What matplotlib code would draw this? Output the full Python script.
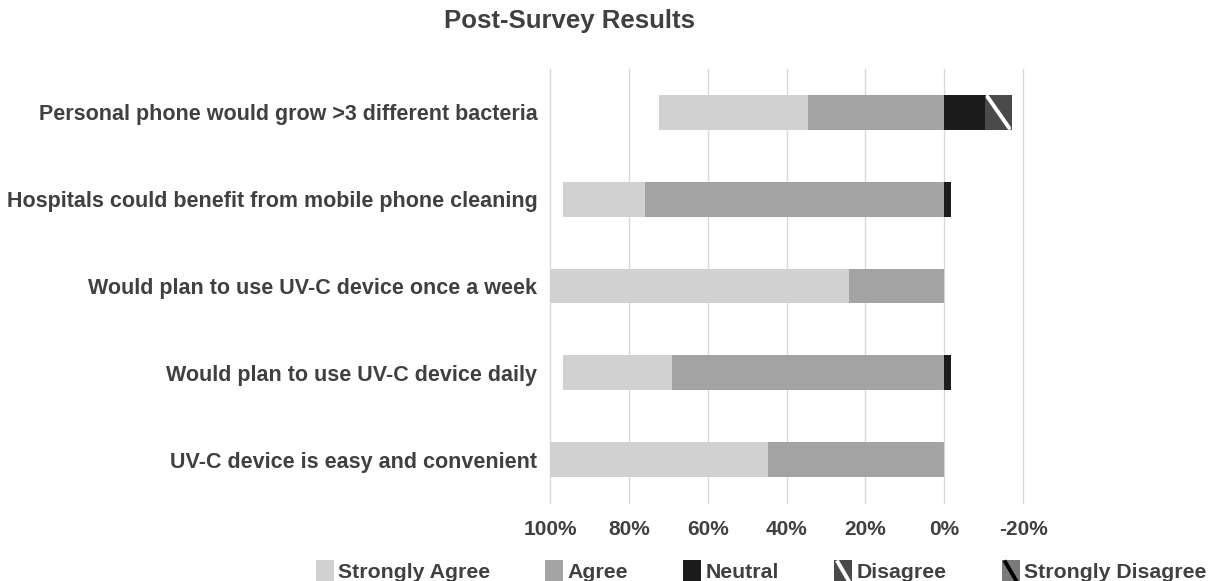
import matplotlib
matplotlib.use("Agg")
import matplotlib.pyplot as plt
from matplotlib.patches import Rectangle
from matplotlib.lines import Line2D
from matplotlib.legend_handler import HandlerBase

plt.rcParams['font.family'] = ['Liberation Sans', 'DejaVu Sans']
plt.rcParams['font.weight'] = 'bold'

# Survey statements (top to bottom) and response shares in percent
statements = [
    "Personal phone would grow >3 different bacteria",
    "Hospitals could benefit from mobile phone cleaning",
    "Would plan to use UV-C device once a week",
    "Would plan to use UV-C device daily",
    "UV-C device is easy and convenient",
]
strongly_agree = [37.9, 20.7, 75.9, 27.6, 55.2]
agree = [34.5, 75.9, 24.1, 69.0, 44.8]
neutral = [10.3, 1.7, 0.0, 1.7, 0.0]
disagree = [6.9, 0.0, 0.0, 0.0, 0.0]
strongly_disagree = [0.0, 0.0, 0.0, 0.0, 0.0]

x_ticks = [100, 80, 60, 40, 20, 0, -20]
x_tick_labels = ["100%", "80%", "60%", "40%", "20%", "0%", "-20%"]

TEXT = "#404040"
C_SA = "#d1d1d1"
C_A = "#a3a3a3"
C_N = "#1c1c1c"
C_D = "#4a4a4a"
C_SD = "#7a7a7a"

fig = plt.figure(figsize=(12.2, 5.81), dpi=100)
ax = fig.add_axes([550 / 1220, 1 - 503 / 581, (1023 - 550) / 1220, (503 - 69) / 581])

y = list(range(len(statements)))
h = 0.4

# Agreement stacks to the left of zero (positive side of an inverted axis)
ax.barh(y, agree, height=h, left=0, color=C_A, zorder=3)
ax.barh(y, strongly_agree, height=h, left=agree, color=C_SA, zorder=3)
# Neutral and disagreement stack to the right of zero
ax.barh(y, [-v for v in neutral], height=h, left=0, color=C_N, zorder=3)
d_left = [-v for v in neutral]
d_bars = ax.barh(y, [-v for v in disagree], height=h, left=d_left, color=C_D, zorder=3)
sd_left = [a - b for a, b in zip(d_left, disagree)]
sd_bars = ax.barh(y, [-v for v in strongly_disagree], height=h, left=sd_left,
                  color=C_SD, zorder=3)


# Diagonal stroke across each disagreement segment
def add_stroke(bars, color):
    for r in bars.patches:
        if r.get_width() == 0:
            continue
        x0 = r.get_x()
        x1 = x0 + r.get_width()
        y0 = r.get_y()
        y1 = y0 + r.get_height()
        # inverted x axis: start at the left-hand (larger) x at the top
        xa, xb = max(x0, x1), min(x0, x1)
        ax.plot([xa - 0.1 * (xa - xb), xb + 0.1 * (xa - xb)],
                [y0 + 0.05 * h, y1 - 0.05 * h],
                color=color, lw=2.8, solid_capstyle='round', zorder=4)


add_stroke(d_bars, "white")
add_stroke(sd_bars, "black")

ax.set_xlim(100, -20)
ax.set_ylim(len(statements) - 0.5, -0.5)
ax.set_xticks(x_ticks)
ax.set_xticklabels(x_tick_labels)
ax.set_yticks(y)
ax.set_yticklabels(statements)
ax.tick_params(axis='x', length=0, labelsize=15, labelcolor=TEXT, pad=12)
ax.tick_params(axis='y', length=0, labelsize=15.5, labelcolor=TEXT, pad=9)
for lab in ax.get_xticklabels() + ax.get_yticklabels():
    lab.set_fontweight('bold')
ax.grid(axis='x', color="#d9d9d9", lw=1, zorder=0)
for gl in ax.get_xgridlines():
    gl.set_clip_on(False)
ax.set_axisbelow(True)
for s in ax.spines.values():
    s.set_visible(False)

fig.text(570 / 1220, 1 - 21 / 581, "Post-Survey Results", ha='center', va='center',
         fontsize=18.5, fontweight='bold', color=TEXT)


class StrokePatchHandler(HandlerBase):
    def __init__(self, face, stroke):
        super().__init__()
        self.face = face
        self.stroke = stroke

    def create_artists(self, legend, orig_handle, xdescent, ydescent, width, height,
                       fontsize, trans):
        rect = Rectangle((-xdescent, -ydescent - 0.35 * height), width, height * 1.6,
                         facecolor=self.face, edgecolor='none', transform=trans)
        line = Line2D([-xdescent + 0.2 * width, -xdescent + 0.85 * width],
                      [-ydescent + 1.1 * height, -ydescent - 0.25 * height],
                      color=self.stroke, lw=2.8, transform=trans)
        return [rect, line]


class PlainPatchHandler(HandlerBase):
    def __init__(self, face):
        super().__init__()
        self.face = face

    def create_artists(self, legend, orig_handle, xdescent, ydescent, width, height,
                       fontsize, trans):
        rect = Rectangle((-xdescent, -ydescent - 0.35 * height), width, height * 1.6,
                         facecolor=self.face, edgecolor='none', transform=trans)
        return [rect]


labels = ["Strongly Agree", "Agree", "Neutral", "Disagree", "Strongly Disagree"]
handles = [Rectangle((0, 0), 1, 1) for _ in labels]
handler_map = {
    handles[0]: PlainPatchHandler(C_SA),
    handles[1]: PlainPatchHandler(C_A),
    handles[2]: PlainPatchHandler(C_N),
    handles[3]: StrokePatchHandler(C_D, "white"),
    handles[4]: StrokePatchHandler(C_SD, "black"),
}
leg = fig.legend(handles, labels, handler_map=handler_map, ncol=5, loc='center',
                 bbox_to_anchor=(761 / 1220, 1 - 573 / 581), frameon=False,
                 fontsize=15.3, handlelength=0.85, handletextpad=0.2,
                 columnspacing=2.6, borderpad=0)
for t in leg.get_texts():
    t.set_color(TEXT)
    t.set_fontweight('bold')

fig.savefig("out.png", dpi=100)
